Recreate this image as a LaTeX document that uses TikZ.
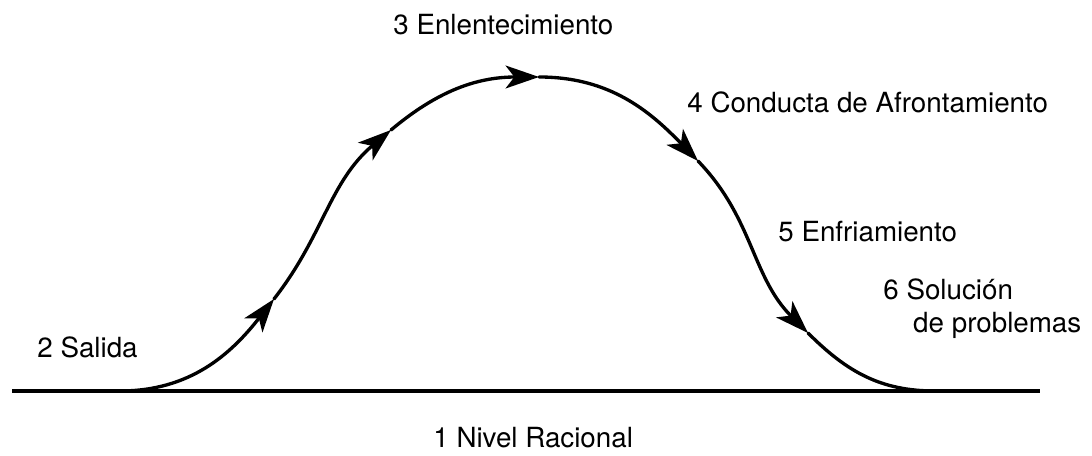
\documentclass[tikz,border=0pt]{standalone}
\usepackage{fontspec}
\setmainfont{TeX Gyre Heros}
\usetikzlibrary{arrows.meta}
\tikzset{
  fase/.style={inner sep=0pt, anchor=base west, font=\fontsize{15.8}{19}\selectfont, align=left},
  linea/.style={line width=1.9pt, line cap=round},
  curva/.style={linea, -{Stealth[length=19pt,width=13pt,inset=5pt]}},
}
\begin{document}
\begin{tikzpicture}[x=0.02cm,y=0.02cm]
    \useasboundingbox (0,0) rectangle (1092,456);
    % nivel racional
    \coordinate (izq) at (12,65);
    \coordinate (der) at (1040,65);
    \draw[line width=2.8pt] (izq) -- (der);
    % puntos de la curva
    \coordinate (salida) at (120,65);
    \coordinate (p1) at (274,157);
    \coordinate (p2) at (391,326);
    \coordinate (cima) at (539,379);
    \coordinate (p4) at (698,295);
    \coordinate (p5) at (808,123);
    \coordinate (fin) at (935,65);
    \draw[curva] (salida) to[out=0,in=232] (p1);
    \draw[curva] (p1) to[out=52,in=220] (p2);
    \draw[curva] (p2) to[out=40,in=180] (cima);
    \draw[curva] (cima) to[out=0,in=134] (p4);
    \draw[curva] (p4) to[out=-46,in=135] (p5);
    \draw[linea] (p5) to[out=-45,in=180] (fin);
    % fases
    \node[fase] (nivel) at (433,8) {1 Nivel Racional};
    \node[fase] (sal) at (37,98) {2 Salida};
    \node[fase] (enl) at (393,421) {3 Enlentecimiento};
    \node[fase] (afr) at (687,343) {4 Conducta de Afrontamiento};
    \node[fase] (enf) at (778,214) {5 Enfriamiento};
    \node[fase] (sol) at (883,123) {6 Soluci\'on\\\hspace*{17pt}de problemas};
\end{tikzpicture}
\end{document}
